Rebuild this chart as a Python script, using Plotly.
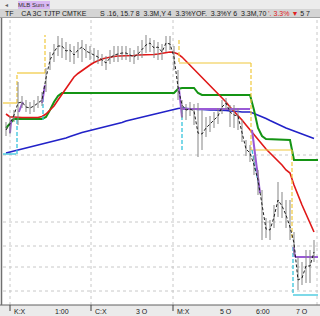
import plotly.graph_objects as go

# ---- price bars (bar index 0..77) ----
close = [170, 176, 185, 197, 198, 193, 192, 194, 197, 200,
         222, 240, 248, 254, 254, 249, 250, 245, 250, 253,
         249, 247, 245, 243, 240, 237, 242, 245, 246, 247,
         247, 245, 243, 246, 250, 255, 257, 252, 253, 248,
         257, 256, 243, 213, 195, 190, 191, 189, 167, 166,
         172, 176, 180, 184, 193, 197, 188, 185, 184, 168,
         151, 147, 135, 120, 95, 71, 70, 83, 100, 94,
         85, 73, 57, 20, 22, 34, 34, 48]
high = [178, 184, 190, 218, 204, 200, 198, 200, 204, 208,
        232, 248, 256, 264, 262, 258, 256, 254, 258, 260,
        256, 254, 252, 250, 246, 244, 250, 254, 254, 254,
        254, 252, 250, 254, 260, 265, 262, 260, 258, 256,
        264, 264, 254, 230, 200, 196, 198, 196, 197, 190,
        183, 184, 188, 192, 200, 202, 195, 195, 192, 180,
        160, 155, 145, 130, 110, 82, 80, 95, 118, 108,
        100, 100, 68, 43, 38, 50, 50, 60]
low = [164, 166, 178, 175, 192, 188, 186, 188, 192, 194,
       208, 230, 238, 244, 242, 240, 238, 236, 242, 238,
       242, 240, 238, 236, 234, 230, 236, 238, 238, 240,
       240, 238, 236, 240, 242, 247, 248, 242, 240, 240,
       248, 250, 230, 200, 182, 180, 184, 175, 143, 150,
       163, 168, 172, 176, 186, 190, 173, 172, 170, 158,
       144, 138, 125, 105, 60, 62, 60, 72, 83, 82,
       72, 60, 45, 10, 15, 17, 17, 38]

# ---- moving averages ----
red_ma = [186, 183, 183, 182.5, 182.5, 182.5, 182.5, 182.5, 182.5, 183.5,
          186, 190, 194, 200, 205.5, 211.5, 217.5, 223, 226.5, 229.5,
          232, 235, 237.5, 239.5, 241, 242, 243, 243.5, 244, 244,
          244.5, 244.5, 244.5, 245, 245, 245, 245, 245.5, 246, 246.5,
          247, 248, 247.5, 246, 243, 239, 235, 231, 227, 223,
          219, 215, 211, 207, 203, 198, 193, 189, 185, 180,
          175, 170, 165, 160, 156, 151, 147, 143, 140, 135,
          130, 127, 115, 104, 95, 86, 77, 68]
blue_ma = [147, 148, 149, 149.5, 150.5, 151.5, 152.5, 153.5, 154.5, 155.5,
           156.5, 157.5, 158.5, 159.5, 160.5, 162, 163.5, 165, 166.5, 167.5,
           168.5, 169.5, 170.5, 171.5, 172.5, 173, 174, 175, 176.5, 177.5,
           179, 180, 181, 182, 183, 184, 184.5, 185.5, 186.5, 187.5,
           188.5, 189.5, 190.5, 191.5, 192, 191.5, 191, 191, 190.5, 190.5,
           190, 190, 190, 190, 190, 189.5, 189, 189, 188.5, 188,
           188, 188, 186.5, 185, 183, 181.5, 179.5, 177.5, 175.5, 173.5,
           172, 170.5, 169, 168, 166.5, 165, 163, 161.5]

# ---- green step line ----
green_idx = [0, 1, 2, 9, 10, 11, 12, 13, 14, 42, 43, 44, 47, 48, 49, 61, 62, 63, 64, 65, 71, 72, 78]
green_val = [172, 176, 181, 181, 183, 190, 198, 204, 207, 207, 211, 212, 212, 207, 205, 205, 190, 172, 164, 161, 160, 140, 140]

# ---- channel bands (segments separated by None) ----
yellow_h_x = [-0.75, 2.75, None, 2.75, 9.75, None, 43.25, 61.25, None, 61.25, 71.5]
yellow_h_y = [197, 197, None, 227, 227, None, 237, 237, None, 150, 150]
yellow_v_x = [2.75, 2.75, None, 9.75, 9.75, None, 43.25, 43.25, None, 61.25, 61.25, None, 71.5, 71.5]
yellow_v_y = [197, 227, None, 227, 265, None, 260, 237, None, 237, 150, None, 150, 60]
cyan_h_x = [-0.75, 2.5, None, 71.75, 78]
cyan_h_y = [146, 146, None, 5, 5]
cyan_v_x = [2.75, 2.75, None, 9.25, 9.25, None, 44, 44, None, 61.5, 63.5, None, 71.75, 71.75]
cyan_v_y = [146, 180, None, 180, 207, None, 190, 148, None, 150, 107, None, 53, 5]
purple_x = [1, 1.3, None, 3.2, 4.2, None, 9, 9.75, None, 43.2, 44, None, 44, 61, None,
            61.5, 63.5, None, 71.9, 72.25, None, 72.25, 78]
purple_y = [167, 180, None, 188, 198, None, 197, 215, None, 213, 183, None, 191, 191, None,
            170, 107, None, 53, 43, None, 43, 43]

# ---- grid / labels ----
grid_prices = [9, 33, 54, 78, 145]
day_breaks = [1, 21.25, 41.75]
day_labels = ["K:X", "C:X", "M:X"]
time_pos = [14, 34, 55, 64.25, 74]
time_labels = ["1:00", "3 O", "5 O", "6:00", "7 O"]
header_black = "TF    CA 3C TJTP CMTKE       S .16, 15.7 8  3.3M,Y 4  3.3%YOF.  3.3%Y 6  3.3M,70"
header_red = " '. 3.3% \u25bc"
header_end = " 5 7"
tab_text = "MLB Sum \u00d7"

X0, X1 = -0.75, 78
Y0, Y1 = -5, 282

fig = go.Figure()

fig.add_trace(go.Scatter(x=list(range(len(blue_ma))), y=blue_ma, mode="lines",
                         line=dict(color="#2222c8", width=1.6), hoverinfo="skip"))
fig.add_trace(go.Scatter(x=green_idx, y=green_val, mode="lines",
                         line=dict(color="#149414", width=2), hoverinfo="skip"))
fig.add_trace(go.Scatter(x=list(range(len(red_ma))), y=red_ma, mode="lines",
                         line=dict(color="#e01818", width=1.6), hoverinfo="skip"))
fig.add_trace(go.Scatter(x=yellow_h_x, y=yellow_h_y, mode="lines",
                         line=dict(color="#f0c83c", width=1.2), hoverinfo="skip"))
fig.add_trace(go.Scatter(x=yellow_v_x, y=yellow_v_y, mode="lines",
                         line=dict(color="#f0c83c", width=1.2, dash="4px,2px"), hoverinfo="skip"))
fig.add_trace(go.Scatter(x=cyan_h_x, y=cyan_h_y, mode="lines",
                         line=dict(color="#38c4dc", width=1.3), hoverinfo="skip"))
fig.add_trace(go.Scatter(x=cyan_v_x, y=cyan_v_y, mode="lines",
                         line=dict(color="#38c4dc", width=1.3, dash="4px,2px"), hoverinfo="skip"))
fig.add_trace(go.Scatter(x=purple_x, y=purple_y, mode="lines",
                         line=dict(color="#9a5ad6", width=2), hoverinfo="skip"))

bx, by = [], []
for i in range(len(close)):
    bx += [i, i, None]
    by += [low[i], high[i], None]
fig.add_trace(go.Scatter(x=bx, y=by, mode="lines",
                         line=dict(color="#858585", width=1), hoverinfo="skip"))
fig.add_trace(go.Scatter(x=list(range(len(close))), y=close, mode="lines",
                         line=dict(color="#202020", width=1, dash="3px,2px"), hoverinfo="skip"))

H = 316 - 18 - 11  # plot height in px
W = 315


def py(p):  # pixel y -> paper y
    return (305 - p) / H


def px(p):  # pixel x -> paper x
    return (p - 3) / W


shapes = []
# header rows
shapes.append(dict(type="rect", xref="paper", yref="paper", x0=px(0), x1=px(320), y0=py(9), y1=py(0),
                   fillcolor="#ececec", line=dict(width=0), layer="above"))
shapes.append(dict(type="rect", xref="paper", yref="paper", x0=px(18), x1=px(50), y0=py(9), y1=py(1),
                   fillcolor="#d9b8f2", line=dict(width=0), layer="above"))
shapes.append(dict(type="rect", xref="paper", yref="paper", x0=px(0), x1=px(320), y0=py(17.5), y1=py(9),
                   fillcolor="#d4d4d4", line=dict(width=0), layer="above"))
shapes.append(dict(type="line", xref="paper", yref="paper", x0=px(0), x1=px(320), y0=py(17.5), y1=py(17.5),
                   line=dict(color="#a0a0a0", width=1), layer="above"))
# bottom axis band
shapes.append(dict(type="rect", xref="paper", yref="paper", x0=px(0), x1=px(320), y0=py(316), y1=py(305),
                   fillcolor="#ebebeb", line=dict(width=0), layer="above"))
shapes.append(dict(type="line", xref="paper", yref="paper", x0=px(0), x1=px(320), y0=py(305), y1=py(305),
                   line=dict(color="#606060", width=1), layer="above"))
# left border and right axis line
shapes.append(dict(type="line", xref="paper", yref="paper", x0=px(1.5), x1=px(1.5), y0=py(305), y1=py(18),
                   line=dict(color="#707070", width=1.5), layer="above"))
shapes.append(dict(type="line", xref="paper", yref="paper", x0=px(317), x1=px(317), y0=py(305), y1=py(18),
                   line=dict(color="#c8c8c8", width=1, dash="dot"), layer="below"))
# gridlines
for g in grid_prices:
    shapes.append(dict(type="line", xref="paper", yref="y", x0=0, x1=1, y0=g, y1=g,
                       line=dict(color="#c8c8c8", width=1, dash="dot"), layer="below"))
for d in day_breaks:
    shapes.append(dict(type="line", xref="x", yref="paper", x0=d, x1=d, y0=0, y1=1,
                       line=dict(color="#c8c8c8", width=1, dash="dot"), layer="below"))
    shapes.append(dict(type="line", xref="x", yref="paper", x0=d, x1=d, y0=py(305), y1=py(311),
                       line=dict(color="#404040", width=1), layer="above"))

annotations = []
fnt = dict(family="Liberation Sans, Arial, sans-serif", size=7, color="#202020")
annotations.append(dict(text=tab_text, xref="paper", yref="paper", x=px(34), y=py(5), showarrow=False,
                        xanchor="center", yanchor="middle", font=dict(family="Liberation Sans", size=6, color="#303030")))
annotations.append(dict(text="\u25c2", xref="paper", yref="paper", x=px(3), y=py(4.5), showarrow=False,
                        xanchor="left", yanchor="middle", font=dict(family="DejaVu Sans", size=6, color="#606060")))
annotations.append(dict(
    text=header_black + "<span style='color:#e02020'>" + header_red + "</span>" + header_end,
    xref="paper", yref="paper", x=px(3), y=py(13.2), showarrow=False, xanchor="left", yanchor="middle",
    font=fnt))
for d, t in zip(day_breaks, day_labels):
    annotations.append(dict(text=t, xref="x", yref="paper", x=d + 0.4, y=py(311), showarrow=False,
                            xanchor="left", yanchor="middle", font=fnt))
for d, t in zip(time_pos, time_labels):
    annotations.append(dict(text=t, xref="x", yref="paper", x=d, y=py(311), showarrow=False,
                            xanchor="center", yanchor="middle", font=fnt))

fig.update_layout(
    width=320, height=316,
    margin=dict(l=3, r=2, t=18, b=11, pad=0),
    paper_bgcolor="white", plot_bgcolor="white",
    showlegend=False,
    xaxis=dict(range=[X0, X1], showgrid=False, zeroline=False, showticklabels=False, ticks="",
               fixedrange=True),
    yaxis=dict(range=[Y0, Y1], showgrid=False, zeroline=False, showticklabels=False, ticks="",
               fixedrange=True),
    shapes=shapes,
    annotations=annotations,
)

fig.write_html("out.html", config={"displayModeBar": False})
